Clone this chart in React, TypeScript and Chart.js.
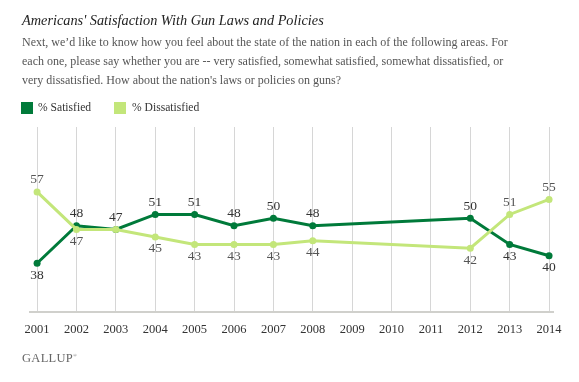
import React, { useEffect, useRef } from "react";
import { Chart, registerables } from "chart.js";

Chart.register(...registerables);

// ---- data ----
const axisYears = [2001, 2002, 2003, 2004, 2005, 2006, 2007, 2008, 2009, 2010, 2011, 2012, 2013, 2014];
const surveyYears = [2001, 2002, 2003, 2004, 2005, 2006, 2007, 2008, 2012, 2013, 2014];
const satisfied = [38, 48, 47, 51, 51, 48, 50, 48, 50, 43, 40];
const dissatisfied = [57, 47, 47, 45, 43, 43, 43, 44, 42, 51, 55];

// label placement (style, not data)
const satisfiedBelowYears = [2001, 2013, 2014];
const dissatisfiedAboveYears = [2001, 2013, 2014];
const dissatisfiedHiddenYears = [2003];

const GREEN_DARK = "#007a3a";
const GREEN_LIGHT = "#c3e67a";
const SERIF = "'Liberation Serif', 'DejaVu Serif', serif";

const labelPlugin = {
  id: "pointLabels",
  afterDatasetsDraw(chart: any) {
    const ctx = chart.ctx;
    ctx.save();
    ctx.font = `13.5px ${SERIF}`;
    ctx.textAlign = "center";
    ctx.textBaseline = "middle";
    chart.data.datasets.forEach((ds: any, di: number) => {
      const meta = chart.getDatasetMeta(di);
      const isSat = ds.label === "% Satisfied";
      meta.data.forEach((pt: any, i: number) => {
        const year = surveyYears[i];
        const val = isSat ? satisfied[i] : dissatisfied[i];
        if (!isSat && dissatisfiedHiddenYears.includes(year)) return;
        const above = isSat ? !satisfiedBelowYears.includes(year) : dissatisfiedAboveYears.includes(year);
        ctx.fillStyle = isSat ? "#333333" : "#555555";
        const dy = above ? -12 : 12;
        ctx.fillText(String(val), pt.x, pt.y + dy);
      });
    });
    ctx.restore();
  },
};

export default function App() {
  const ref = useRef<HTMLCanvasElement>(null);
  useEffect(() => {
    if (!ref.current) return;
    const chart = new Chart(ref.current, {
      type: "line",
      data: {
        datasets: [
          {
            label: "% Dissatisfied",
            data: surveyYears.map((x, i) => ({ x, y: dissatisfied[i] })),
            borderColor: GREEN_LIGHT,
            backgroundColor: GREEN_LIGHT,
            borderWidth: 3,
            pointRadius: 3.5,
            pointBorderWidth: 0,
            pointBackgroundColor: GREEN_LIGHT,
            tension: 0,
            order: 1,
          },
          {
            label: "% Satisfied",
            data: surveyYears.map((x, i) => ({ x, y: satisfied[i] })),
            borderColor: GREEN_DARK,
            backgroundColor: GREEN_DARK,
            borderWidth: 3,
            pointRadius: 3.5,
            pointBorderWidth: 0,
            pointBackgroundColor: GREEN_DARK,
            tension: 0,
            order: 2,
          },
        ],
      },
      options: {
        animation: false,
        responsive: false,
        maintainAspectRatio: false,
        events: [],
        layout: { padding: { left: 30, right: 26, top: 127, bottom: 40 } },
        plugins: { legend: { display: false }, tooltip: { enabled: false } },
        scales: {
          x: {
            type: "linear",
            min: 2000.82,
            max: 2014.1,
            afterBuildTicks: (scale: any) => {
              scale.ticks = axisYears.map((v) => ({ value: v }));
            },
            afterFit: (scale: any) => {
              scale.height = 30;
            },
            ticks: {
              autoSkip: false,
              maxRotation: 0,
              padding: 10,
              color: "#333333",
              font: { family: SERIF, size: 12.5 },
              callback: (v: any) => String(v),
            },
            grid: { color: "#d6d6d6", lineWidth: 1, drawTicks: false, tickLength: 0 },
            border: { display: true, color: "#d0d0cc", width: 2 },
          },
          y: {
            display: false,
            min: 25,
            max: 74.3,
          },
        },
      },
      plugins: [labelPlugin],
    } as any);
    return () => chart.destroy();
  }, []);

  const sub = [
    "Next, we\u2019d like to know how you feel about the state of the nation in each of the following areas. For",
    "each one, please say whether you are -- very satisfied, somewhat satisfied, somewhat dissatisfied, or",
    "very dissatisfied. How about the nation's laws or policies on guns?",
  ];

  return (
    <div style={{ position: "fixed", left: 0, top: 0, width: 579, height: 382, background: "#fff", fontFamily: SERIF }}>
      <canvas ref={ref} width={579} height={382} style={{ position: "absolute", left: 0, top: 0, width: 579, height: 382 }} />
      <div style={{ position: "absolute", left: 22, top: 10, fontSize: 14.3, lineHeight: "21px", fontStyle: "italic", color: "#222", whiteSpace: "nowrap" }}>
        Americans' Satisfaction With Gun Laws and Policies
      </div>
      {sub.map((t, i) => (
        <div key={i} style={{ position: "absolute", left: 22, top: 33 + i * 19, fontSize: 12, lineHeight: "19px", color: "#555", whiteSpace: "nowrap" }}>
          {t}
        </div>
      ))}
      <div style={{ position: "absolute", left: 21, top: 102, width: 12, height: 12, background: GREEN_DARK }} />
      <div style={{ position: "absolute", left: 38, top: 99, fontSize: 11.6, lineHeight: "18px", color: "#333", whiteSpace: "nowrap" }}>% Satisfied</div>
      <div style={{ position: "absolute", left: 114, top: 102, width: 12, height: 12, background: GREEN_LIGHT }} />
      <div style={{ position: "absolute", left: 132, top: 99, fontSize: 11.6, lineHeight: "18px", color: "#333", whiteSpace: "nowrap" }}>% Dissatisfied</div>
      <div style={{ position: "absolute", left: 22, top: 347, fontSize: 12.5, lineHeight: "18px", color: "#666", letterSpacing: 0.3, whiteSpace: "nowrap" }}>
        GALLUP<sup style={{ fontSize: 5 }}>®</sup>
      </div>
    </div>
  );
}
